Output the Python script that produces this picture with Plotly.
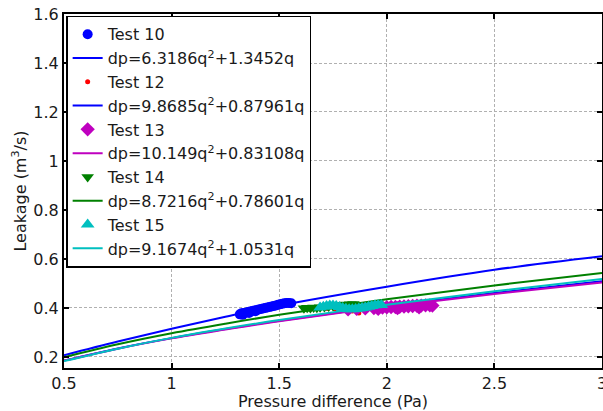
import plotly.graph_objects as go

# ---- data ----
fit_x = [0.5, 0.75, 1.0, 1.25, 1.5, 2.0, 2.5, 3.0]
fit10 = [0.207, 0.263, 0.315, 0.364, 0.410, 0.487, 0.556, 0.611]
fit12 = [0.185, 0.235, 0.277, 0.314, 0.348, 0.408, 0.461, 0.509]
fit13 = [0.185, 0.234, 0.276, 0.312, 0.346, 0.405, 0.457, 0.504]
fit14 = [0.199, 0.252, 0.297, 0.336, 0.372, 0.436, 0.492, 0.543]
fit15 = [0.183, 0.234, 0.278, 0.316, 0.351, 0.413, 0.468, 0.518]

t10_x = [1.317, 1.325, 1.335, 1.345, 1.355, 1.365, 1.375, 1.385, 1.395, 1.405,
         1.415, 1.425, 1.435, 1.445, 1.455, 1.465, 1.475, 1.485, 1.495, 1.505,
         1.515, 1.525, 1.535, 1.545, 1.556, 1.330, 1.360, 1.390]
t10_y = [0.374, 0.378, 0.380, 0.381, 0.384, 0.386, 0.388, 0.390, 0.392, 0.394,
         0.396, 0.398, 0.400, 0.402, 0.404, 0.406, 0.408, 0.410, 0.413, 0.415,
         0.417, 0.419, 0.420, 0.420, 0.419, 0.372, 0.380, 0.387]

t12_x = [1.72, 1.76, 1.80, 1.84, 1.87, 1.90, 1.93, 1.96]
t12_y = [0.398, 0.396, 0.392, 0.388, 0.379, 0.396, 0.400, 0.406]

t13_x = [1.82, 1.86, 1.90, 1.94, 1.98, 2.00, 2.02, 2.04, 2.06, 2.08,
         2.10, 2.12, 2.14, 2.16, 2.18, 2.20, 2.212, 1.96, 2.05, 2.15]
t13_y = [0.394, 0.396, 0.398, 0.400, 0.402, 0.403, 0.404, 0.404, 0.405, 0.406,
         0.407, 0.408, 0.409, 0.410, 0.411, 0.411, 0.410, 0.396, 0.399, 0.403]

t14_x = [1.615, 1.630, 1.645, 1.660, 1.675, 1.690, 1.710, 1.730, 1.750, 1.770,
         1.790, 1.810, 1.830, 1.845]
t14_y = [0.399, 0.401, 0.400, 0.402, 0.401, 0.403, 0.404, 0.406, 0.408, 0.410,
         0.412, 0.414, 0.415, 0.416]

t15_x = [1.690, 1.705, 1.720, 1.735, 1.750, 1.765, 1.780, 1.795, 1.810, 1.825,
         1.840, 1.855, 1.870, 1.885, 1.900, 1.915, 1.930, 1.945, 1.960, 1.975]
t15_y = [0.402, 0.405, 0.408, 0.410, 0.410, 0.408, 0.404, 0.400, 0.397, 0.395,
         0.395, 0.396, 0.398, 0.400, 0.402, 0.405, 0.408, 0.411, 0.412, 0.412]

labels = ["Test 10", "dp=6.3186q<sup>2</sup>+1.3452q",
          "Test 12", "dp=9.8685q<sup>2</sup>+0.87961q",
          "Test 13", "dp=10.149q<sup>2</sup>+0.83108q",
          "Test 14", "dp=8.7216q<sup>2</sup>+0.78601q",
          "Test 15", "dp=9.1674q<sup>2</sup>+1.0531q"]

x_ticks = [0.5, 1, 1.5, 2, 2.5, 3]
x_tick_text = ["0.5", "1", "1.5", "2", "2.5", "3"]
y_ticks = [0.2, 0.4, 0.6, 0.8, 1.0, 1.2, 1.4, 1.6]
y_tick_text = ["0.2", "0.4", "0.6", "0.8", "1", "1.2", "1.4", "1.6"]

BLUE = "#0000ff"
RED = "#ff0000"
MAG = "#bf00bf"
GRN = "#008000"
CYN = "#00bfbf"

fig = go.Figure()
series = [
    (t10_x, t10_y, fit10, BLUE, BLUE, "circle", 10),
    (t12_x, t12_y, fit12, RED, BLUE, "circle", 5),
    (t13_x, t13_y, fit13, MAG, MAG, "diamond", 11),
    (t14_x, t14_y, fit14, GRN, GRN, "triangle-down", 11),
    (t15_x, t15_y, fit15, CYN, CYN, "triangle-up", 12),
]
for i, (sx, sy, fy, mc, lc, sym, sz) in enumerate(series):
    fig.add_trace(go.Scatter(
        x=sx, y=sy, mode="markers", name=labels[2 * i],
        marker=dict(color=mc, symbol=sym, size=sz, line=dict(width=0))))
    fig.add_trace(go.Scatter(
        x=fit_x, y=fy, mode="lines", name=labels[2 * i + 1],
        line=dict(color=lc, width=2, shape="spline")))

FONT = "DejaVu Sans, sans-serif"
TXT = "#1a1a1a"
axis_common = dict(
    showline=True, linecolor="black", linewidth=2, mirror="allticks",
    ticks="inside", ticklen=5, tickwidth=1.5, tickcolor="black",
    showgrid=True, gridcolor="#b0b0b0", gridwidth=1, griddash="3px,2px",
    zeroline=False, tickfont=dict(family=FONT, size=16, color=TXT),
    automargin=False, ticklabeloverflow="allow",
)
fig.update_xaxes(range=[0.5, 3], tickvals=x_ticks, ticktext=x_tick_text,
                 title=dict(text="Pressure difference (Pa)", standoff=2,
                            font=dict(family=FONT, size=16, color=TXT)),
                 **axis_common)
fig.update_yaxes(range=[0.155, 1.6], tickvals=y_ticks, ticktext=y_tick_text,
                 title=dict(text="Leakage (m<sup>3</sup>/s)", standoff=3,
                            font=dict(family=FONT, size=16, color=TXT)),
                 **axis_common)

fig.update_layout(
    width=603, height=411,
    margin=dict(l=64, r=1, t=14, b=43),
    plot_bgcolor="white", paper_bgcolor="white",
    showlegend=True,
    legend=dict(x=0.004, y=0.995, xanchor="left", yanchor="top",
                bgcolor="white", bordercolor="black", borderwidth=1.5,
                font=dict(family=FONT, size=16, color=TXT),
                itemwidth=30, tracegroupgap=0),
)

fig.write_html("out.html", config={"displayModeBar": False},
               post_script="document.body.style.margin='0';document.body.style.overflow='hidden';")
